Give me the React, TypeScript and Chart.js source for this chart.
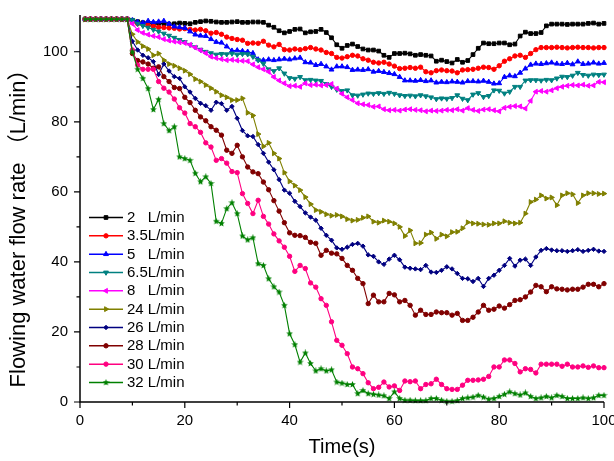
import React, { useEffect, useRef } from 'react';
import { Chart, registerables } from 'chart.js';
import { drawPoint } from 'chart.js/helpers';

Chart.register(...registerables);

const TIME = [
  1, 2, 3, 4, 5, 6, 7, 8, 9, 10, 11, 12, 13, 14, 15, 16, 17, 18, 19, 20,
  21, 22, 23, 24, 25, 26, 27, 28, 29, 30, 31, 32, 33, 34, 35, 36, 37, 38, 39, 40,
  41, 42, 43, 44, 45, 46, 47, 48, 49, 50, 51, 52, 53, 54, 55, 56, 57, 58, 59, 60,
  61, 62, 63, 64, 65, 66, 67, 68, 69, 70, 71, 72, 73, 74, 75, 76, 77, 78, 79, 80,
  81, 82, 83, 84, 85, 86, 87, 88, 89, 90, 91, 92, 93, 94, 95, 96, 97, 98, 99, 100,
];

const F2 = [
  109.3, 109.3, 109.3, 109.3, 109.3, 109.3, 109.3, 109.3, 109.3,
  109.0, 108.6, 108.3, 108.2, 108.0, 108.1, 108.0, 107.9, 108.0, 108.2,
  108.1, 108.0, 108.4, 108.6, 108.8, 108.7, 108.5, 108.4, 108.4, 108.5,
  108.6, 108.4, 108.4, 108.5, 108.5, 108.4, 107.6, 107.0, 106.0, 105.4,
  105.8, 106.4, 106.5, 105.4, 105.7, 105.8, 106.4, 105.5, 104.0, 102.0,
  101.0, 101.8, 102.2, 101.5, 100.8, 100.5, 100.5, 100.2, 99.0, 98.4,
  99.5, 99.5, 99.6, 99.4, 99.0, 99.2, 99.0, 98.8, 97.3, 97.6,
  97.2, 96.8, 97.8, 97.0, 97.5, 99.2, 101.0, 102.5, 102.3, 102.3,
  102.5, 102.5, 102.0, 102.2, 104.5, 105.6, 105.2, 105.2, 105.5, 107.4,
  107.9, 107.9, 107.9, 107.8, 107.9, 107.9, 107.9, 108.1, 108.2, 107.9, 108.1,
];
const F35 = [
  109.3, 109.3, 109.3, 109.3, 109.3, 109.3, 109.3, 109.3, 109.3,
  108.5, 108.0, 107.8, 107.6, 107.3, 107.0, 106.9, 106.8, 106.7, 106.5,
  106.6, 106.4, 106.2, 106.4, 106.0, 105.3, 105.5, 105.0, 104.2, 103.8,
  103.5, 103.3, 102.4, 102.5, 102.4, 103.0, 101.9, 101.4, 102.1, 100.6,
  100.5, 100.8, 100.6, 100.9, 101.2, 100.8, 100.5, 99.8, 99.5, 98.4,
  98.2, 98.6, 99.0, 98.8, 98.0, 97.6, 97.0, 96.8, 97.0, 96.5,
  95.9, 95.2, 95.3, 95.5, 95.3, 95.6, 94.3, 94.0, 94.6, 94.8,
  94.6, 94.5, 94.0, 94.8, 94.9, 95.0, 95.3, 95.6, 95.5, 95.0,
  96.0, 97.3, 98.0, 98.8, 99.0, 98.4, 99.5, 100.6, 101.2, 101.2,
  101.2, 101.3, 101.2, 101.1, 101.2, 101.3, 101.2, 101.2, 101.1, 101.2, 101.2,
];
const F5 = [
  109.3, 109.3, 109.3, 109.3, 109.3, 109.3, 109.3, 109.3, 109.3,
  109.0, 108.5, 108.3, 108.8, 108.5, 108.6, 108.8, 108.0, 107.2, 107.0,
  106.8, 105.8, 104.9, 104.6, 104.5, 103.6, 102.8, 102.6, 101.5, 100.3,
  100.4, 100.2, 100.0, 99.6, 97.8, 97.6, 97.8, 97.6, 97.8, 98.0,
  97.8, 98.1, 98.3, 97.0, 96.9, 96.2, 96.5, 95.8, 94.9, 95.8,
  95.8, 95.6, 94.8, 94.9, 94.8, 95.0, 94.3, 94.5, 94.2, 93.9,
  93.6, 92.8, 91.8, 91.8, 91.7, 91.9, 91.6, 91.8, 91.2, 91.4,
  91.3, 91.5, 91.4, 91.2, 91.6, 91.6, 91.5, 91.7, 91.4, 90.9,
  91.0, 92.8, 93.2, 93.0, 94.0, 95.2, 96.3, 96.6, 96.5, 96.7,
  96.9, 96.6, 96.5, 96.8, 96.4, 97.2, 96.5, 96.6, 96.9, 96.6, 96.8,
];
const F65 = [
  109.3, 109.3, 109.3, 109.3, 109.3, 109.3, 109.3, 109.3, 109.3,
  109.0, 108.0, 107.4, 106.9, 106.3, 105.8, 105.2, 104.6, 104.0, 103.4,
  102.8, 102.0, 101.3, 100.6, 100.0, 99.6, 99.2, 99.4, 99.3, 99.5,
  99.2, 99.4, 99.3, 98.6, 97.6, 96.6, 95.0, 94.5, 95.3, 93.8,
  92.5, 92.3, 92.8, 91.9, 92.0, 91.8, 91.7, 90.8, 90.0, 89.2,
  88.8, 89.0, 87.6, 87.5, 87.8, 88.1, 88.0, 88.2, 88.0, 88.3,
  88.0, 87.6, 87.4, 87.5, 87.3, 87.6, 87.3, 87.0, 86.5, 86.7,
  86.6, 86.8, 87.6, 86.6, 86.2, 87.8, 88.2, 87.1, 87.4, 89.0,
  88.9, 88.1, 88.6, 90.0, 90.0, 91.8, 91.9, 91.9, 91.8, 92.0,
  91.9, 92.4, 92.9, 92.8, 93.2, 94.0, 93.4, 93.2, 93.5, 93.4, 93.5,
];
const F8 = [
  109.3, 109.3, 109.3, 109.3, 109.3, 109.3, 109.3, 109.3, 109.3,
  108.0, 106.2, 105.4, 104.9, 104.5, 104.2, 103.6, 103.2, 102.9, 102.7,
  102.5, 102.0, 101.2, 100.4, 99.6, 98.6, 98.2, 97.9, 97.6, 97.7,
  97.5, 97.4, 97.3, 96.4, 95.6, 95.0, 94.3, 92.8, 91.8, 91.0,
  90.2, 90.3, 90.0, 91.0, 90.5, 90.6, 90.4, 90.5, 90.8, 89.5,
  88.0, 87.0, 86.2, 85.3, 85.0, 84.8, 84.3, 84.4, 83.6, 83.3,
  83.4, 83.2, 83.5, 83.6, 83.4, 83.3, 83.0, 83.2, 83.1, 83.2,
  83.4, 83.3, 83.6, 83.2, 83.9, 83.4, 83.1, 83.5, 83.6, 83.3,
  83.0, 84.0, 84.3, 84.5, 84.4, 83.8, 86.0, 88.6, 88.8, 88.6,
  89.0, 89.6, 90.0, 90.3, 90.5, 90.4, 90.6, 90.3, 90.4, 91.4, 91.3,
];
const F24 = [
  109.3, 109.3, 109.3, 109.3, 109.3, 109.3, 109.3, 109.3, 109.3,
  105.0, 102.8, 101.6, 100.8, 99.0, 99.5, 97.6, 96.5, 96.0, 95.3,
  94.6, 93.6, 92.2, 91.5, 90.5, 89.6, 88.6, 87.6, 87.0, 86.2,
  86.2, 86.7, 82.6, 81.8, 76.5, 73.0, 74.0, 71.0, 69.5, 65.5,
  63.0, 61.8, 60.5, 58.5, 56.5, 54.8, 54.3, 53.6, 53.2, 53.4,
  53.0, 52.2, 51.8, 52.0, 52.6, 53.0, 51.5, 51.2, 51.8, 51.5,
  51.0, 50.0, 47.4, 49.0, 45.3, 45.4, 47.8, 48.4, 46.6, 47.8,
  47.3, 48.5, 48.6, 49.6, 51.3, 51.0, 50.9, 50.7, 50.6, 51.0,
  51.0, 51.6, 51.2, 51.0, 51.2, 53.8, 57.1, 57.8, 59.0, 58.1,
  58.4, 56.2, 59.0, 59.6, 59.3, 56.8, 59.0, 59.6, 59.6, 59.4, 59.5,
];
const F26 = [
  109.3, 109.3, 109.3, 109.3, 109.3, 109.3, 109.3, 109.3, 109.3,
  103.0, 100.5, 99.0, 98.3, 97.2, 93.5, 96.5, 94.5, 92.9, 92.4,
  90.0, 88.5, 86.7, 85.3, 84.6, 83.3, 85.6, 85.2, 83.3, 84.4,
  81.0, 77.5, 76.0, 75.8, 73.5, 71.0, 68.5, 66.3, 63.5, 60.5,
  59.6, 57.3, 55.8, 54.0, 52.8, 51.9, 49.6, 47.6, 46.2, 44.0,
  43.6, 44.2, 45.0, 45.3, 44.5, 42.0, 41.6, 40.0, 39.3, 40.8,
  41.9, 40.6, 38.5, 38.2, 38.0, 37.8, 39.0, 37.1, 37.0, 37.6,
  38.6, 38.0, 36.7, 35.3, 35.2, 34.4, 35.3, 33.0, 35.3, 36.2,
  37.6, 39.0, 41.0, 38.8, 40.5, 40.8, 39.0, 41.4, 43.3, 43.8,
  43.4, 43.2, 43.2, 43.0, 43.2, 43.5, 43.0, 43.3, 43.6, 43.1, 43.0,
];
const F28 = [
  109.3, 109.3, 109.3, 109.3, 109.3, 109.3, 109.3, 109.3, 109.3,
  99.5, 97.5, 97.1, 96.5, 95.3, 95.7, 92.9, 91.5, 89.8, 89.5,
  87.0, 85.5, 83.3, 81.4, 80.3, 78.6, 77.6, 76.2, 71.9, 71.0,
  73.3, 70.0, 67.1, 65.7, 65.2, 62.8, 60.6, 57.5, 54.5, 51.2,
  48.3, 47.6, 47.5, 47.0, 45.6, 45.3, 41.9, 43.3, 42.5, 42.3,
  41.0, 39.0, 37.6, 35.3, 33.8, 28.1, 30.5, 28.6, 28.6, 31.0,
  30.6, 28.6, 29.0, 27.6, 24.8, 26.2, 25.0, 25.0, 25.7, 25.5,
  25.5, 24.8, 25.3, 23.3, 23.3, 24.2, 25.7, 27.6, 26.2, 26.5,
  27.4, 26.8, 27.8, 29.0, 29.2, 30.0, 31.4, 33.3, 32.9, 31.5,
  32.9, 32.3, 32.2, 32.0, 32.2, 32.2, 32.8, 33.6, 33.6, 32.9, 33.8,
];
const F30 = [
  109.3, 109.3, 109.3, 109.3, 109.3, 109.3, 109.3, 109.3, 109.3,
  100.5, 96.2, 95.0, 95.0, 95.0, 91.5, 89.6, 88.5, 86.5, 84.0,
  82.5, 79.5, 78.6, 77.0, 74.0, 72.8, 69.0, 69.5, 68.2, 65.8,
  65.5, 59.5, 56.7, 53.8, 57.6, 53.0, 50.8, 48.0, 46.0, 44.2,
  41.6, 37.3, 39.0, 38.1, 34.0, 32.8, 29.5, 27.6, 22.9, 17.6,
  16.2, 13.8, 10.0, 9.5, 8.1, 5.5, 3.8, 4.2, 5.7, 4.3,
  4.6, 3.3, 6.0, 5.8, 6.0, 3.8, 5.0, 5.2, 6.5, 5.0,
  3.8, 3.6, 3.6, 4.8, 6.2, 6.2, 6.3, 6.5, 7.3, 10.0,
  10.0, 12.0, 12.0, 11.0, 8.6, 9.5, 9.3, 8.3, 10.8, 10.8,
  10.8, 10.8, 10.2, 10.8, 10.0, 10.0, 10.3, 9.9, 10.3, 9.8, 9.8,
];
const F32 = [
  109.3, 109.3, 109.3, 109.3, 109.3, 109.3, 109.3, 109.3, 109.3,
  100.0, 95.0, 92.4, 89.5, 83.5, 86.4, 79.5, 77.5, 78.6, 70.0,
  69.5, 69.0, 65.3, 62.9, 64.3, 62.4, 51.6, 51.0, 55.2, 56.9,
  53.8, 47.4, 46.3, 46.9, 39.5, 39.0, 35.2, 32.9, 31.4, 27.6,
  19.5, 16.4, 11.4, 14.0, 11.0, 8.9, 9.5, 8.9, 9.2, 5.7,
  5.4, 5.0, 5.0, 2.4, 3.3, 2.4, 2.2, 2.0, 1.8, 1.0,
  2.9, 1.0, 0.5, 0.5, 0.4, 0.4, 0.4, 1.0, 1.0, 0.5,
  0.2, 0.2, 0.4, 1.0, 1.2, 1.4, 1.9, 1.4, 0.8, 1.0,
  1.6, 2.2, 2.9, 2.4, 2.0, 2.6, 1.6, 1.0, 1.2, 1.6,
  1.2, 1.9, 1.6, 1.0, 1.0, 1.0, 1.2, 1.0, 1.2, 1.9, 1.9,
];

const SERIES = [F2, F35, F5, F65, F8, F24, F26, F28, F30, F32];
const LABELS = [
  '2   L/min', '3.5L/min', '5   L/min', '6.5L/min', '8   L/min',
  '24 L/min', '26 L/min', '28 L/min', '30 L/min', '32 L/min',
];
const COLORS = [
  '#000000', '#FF0000', '#0000FF', '#008080', '#FF00FF',
  '#808000', '#000080', '#800000', '#FF0080', '#008000',
];
const STYLES = ['rect', 'circle', 'triangle', 'triangle', 'triangle', 'triangle', 'rectRot', 'circle', 'circle', 'star'];
const ROTATIONS = [0, 0, 0, 180, 270, 90, 0, 0, 0, 0];

const X_MAJOR = [0, 20, 40, 60, 80, 100];
const X_MINOR = [10, 30, 50, 70, 90];
const Y_MAJOR = [0, 20, 40, 60, 80, 100];
const Y_MINOR = [10, 30, 50, 70, 90];

const FONT = '"Liberation Sans", Arial, "Noto Sans CJK SC", sans-serif';

function makeStar(color: string) {
  const c = document.createElement('canvas');
  c.width = 7;
  c.height = 7;
  const g = c.getContext('2d')!;
  g.fillStyle = color;
  g.beginPath();
  for (let k = 0; k < 10; k++) {
    const r = k % 2 === 0 ? 3.5 : 1.6;
    const a = -Math.PI / 2 + (k * Math.PI) / 5;
    const px = 3.5 + r * Math.cos(a);
    const py = 3.6 + r * Math.sin(a);
    if (k === 0) g.moveTo(px, py);
    else g.lineTo(px, py);
  }
  g.closePath();
  g.fill();
  return c;
}

export default function App() {
  const ref = useRef<HTMLCanvasElement | null>(null);

  useEffect(() => {
    const canvas = ref.current;
    if (!canvas) return;
    const star = makeStar(COLORS[9]);
    const styleOf = (i: number) => (STYLES[i] === 'star' ? star : STYLES[i]);

    const decor = {
      id: 'decor',
      afterDraw(chart: any) {
        const { ctx, chartArea: a, scales } = chart;
        const xs = scales.x;
        const ys = scales.y;
        ctx.save();
        ctx.strokeStyle = '#000';
        ctx.lineWidth = 1.5;
        ctx.beginPath();
        ctx.moveTo(a.left, a.top);
        ctx.lineTo(a.left, a.bottom);
        ctx.lineTo(a.right, a.bottom);
        ctx.stroke();
        ctx.lineWidth = 1.2;
        ctx.beginPath();
        X_MAJOR.forEach((v) => {
          const px = xs.getPixelForValue(v);
          ctx.moveTo(px, a.bottom);
          ctx.lineTo(px, a.bottom + 6);
        });
        X_MINOR.forEach((v) => {
          const px = xs.getPixelForValue(v);
          ctx.moveTo(px, a.bottom);
          ctx.lineTo(px, a.bottom + 3.5);
        });
        Y_MAJOR.forEach((v) => {
          const py = ys.getPixelForValue(v);
          ctx.moveTo(a.left, py);
          ctx.lineTo(a.left - 6, py);
        });
        Y_MINOR.forEach((v) => {
          const py = ys.getPixelForValue(v);
          ctx.moveTo(a.left, py);
          ctx.lineTo(a.left - 3.5, py);
        });
        ctx.stroke();

        // axis titles
        ctx.fillStyle = '#000';
        ctx.font = `20px ${FONT}`;
        ctx.textAlign = 'center';
        ctx.textBaseline = 'middle';
        ctx.fillText('Time(s)', (a.left + a.right) / 2, 447);
        ctx.save();
        ctx.translate(19, 223);
        ctx.rotate(-Math.PI / 2);
        ctx.font = `22px ${FONT}`;
        ctx.fillText('Flowing water flow rate （L/min）', 0, 0);
        ctx.restore();

        // legend
        ctx.font = `15px ${FONT}`;
        ctx.textAlign = 'left';
        chart.data.datasets.forEach((ds: any, i: number) => {
          const yy = 217.5 + i * 18.33;
          ctx.strokeStyle = ds.borderColor;
          ctx.fillStyle = ds.borderColor;
          ctx.lineWidth = 1.5;
          ctx.beginPath();
          ctx.moveTo(89, yy);
          ctx.lineTo(123, yy);
          ctx.stroke();
          ctx.lineWidth = 1;
          drawPoint(ctx, {
            pointStyle: ds.pointStyle,
            rotation: ds.pointRotation,
            radius: ds.pointRadius,
            borderWidth: 1,
          } as any, 106, yy);
          ctx.fillStyle = '#000';
          ctx.fillText(ds.label, 127, yy + 0.5);
        });
        ctx.restore();
      },
    };

    const chart = new Chart(canvas, {
      type: 'line',
      data: {
        datasets: SERIES.map((s, i) => ({
          label: LABELS[i],
          data: TIME.map((t, j) => ({ x: t, y: s[j] })),
          borderColor: COLORS[i],
          backgroundColor: COLORS[i],
          borderWidth: 1.1,
          pointStyle: styleOf(i) as any,
          pointRotation: ROTATIONS[i],
          pointRadius: STYLES[i] === 'rect' ? 2.6 : STYLES[i] === 'triangle' ? 2.8 : 2.2,
          pointBorderWidth: 1,
          pointBorderColor: COLORS[i],
          pointBackgroundColor: COLORS[i],
          tension: 0,
          order: 10 - i,
          clip: 6,
        })),
      },
      options: {
        responsive: false,
        animation: false,
        devicePixelRatio: 1,
        layout: { padding: { top: 15, right: 10, left: 0, bottom: 0 } },
        plugins: {
          legend: { display: false },
          tooltip: { enabled: false },
        },
        scales: {
          x: {
            type: 'linear',
            min: 0,
            max: 100,
            grid: { display: false, drawTicks: false },
            border: { display: false },
            ticks: {
              stepSize: 20,
              padding: 10,
              color: '#000',
              font: { family: FONT, size: 15 },
              maxRotation: 0,
            },
            afterFit: (s: any) => {
              s.height = 59;
              s.paddingLeft = 0;
              s.paddingRight = 0;
              s.paddingTop = 0;
              s.paddingBottom = 0;
            },
          },
          y: {
            type: 'linear',
            min: 0,
            max: 110.5,
            grid: { display: false, drawTicks: false },
            border: { display: false },
            ticks: {
              stepSize: 20,
              includeBounds: false,
              padding: 12,
              color: '#000',
              font: { family: FONT, size: 15 },
            },
            afterFit: (s: any) => {
              s.width = 80;
              s.paddingLeft = 0;
              s.paddingRight = 0;
              s.paddingTop = 0;
              s.paddingBottom = 0;
            },
          },
        },
      },
      plugins: [decor],
    });
    return () => chart.destroy();
  }, []);

  return (
    <div style={{ position: 'absolute', left: 0, top: 0, width: 614, height: 461, background: '#fff' }}>
      <canvas ref={ref} width={614} height={461} style={{ display: 'block' }} />
    </div>
  );
}
